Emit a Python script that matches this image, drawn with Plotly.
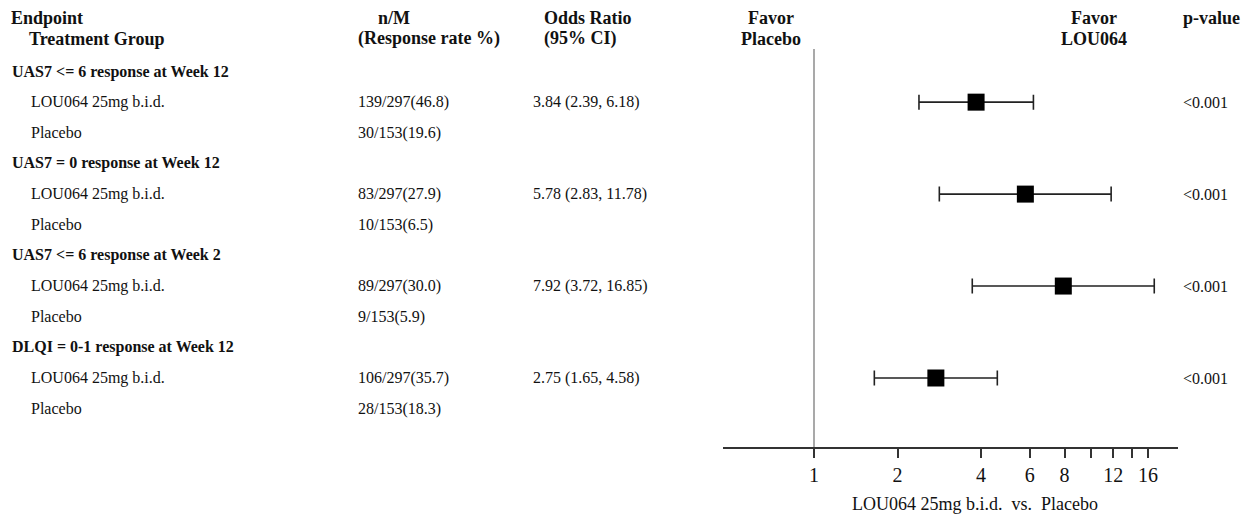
import plotly.graph_objects as go

# ---- data -------------------------------------------------------------
endpoints = [
    "UAS7 &lt;= 6 response at Week 12",
    "UAS7 = 0 response at Week 12",
    "UAS7 &lt;= 6 response at Week 2",
    "DLQI = 0-1 response at Week 12",
]
active_label = "LOU064 25mg b.i.d."
placebo_label = "Placebo"

active_n = [139, 83, 89, 106]
active_total = [297, 297, 297, 297]
active_rate = [46.8, 27.9, 30.0, 35.7]

placebo_n = [30, 10, 9, 28]
placebo_total = [153, 153, 153, 153]
placebo_rate = [19.6, 6.5, 5.9, 18.3]

odds_ratio = [3.84, 5.78, 7.92, 2.75]
ci_lower = [2.39, 2.83, 3.72, 1.65]
ci_upper = [6.18, 11.78, 16.85, 4.58]
p_values = ["&lt;0.001", "&lt;0.001", "&lt;0.001", "&lt;0.001"]

tick_values = [1, 2, 4, 6, 8, 10, 12, 14, 16]
tick_labels = ["1", "2", "4", "6", "8", "", "12", "", "16"]

# ---- layout constants (pixels) ----------------------------------------
W, H = 1248, 522
FONT = "Liberation Serif, Times New Roman, serif"
TXT = "#111111"
ROW_H = 30.65          # pixel height of one table row
ROW0_Y = 71.5          # pixel centre of the first row
AXIS_Y = 447           # pixel position of the x axis line
X_LEFT, X_RIGHT = 723, 1178
X_ONE = 814            # pixel position of OR = 1
PX_PER_DECADE = 277.4

def px_x(p):
    return p / W

def px_y(p):
    return 1 - p / H

# rows: each endpoint has a title row, an active row and a placebo row
title_rows = [3 * i for i in range(len(endpoints))]
active_rows = [3 * i + 1 for i in range(len(endpoints))]
placebo_rows = [3 * i + 2 for i in range(len(endpoints))]

fig = go.Figure()

# reference line at OR = 1
top_row = (49 - ROW0_Y) / ROW_H
bottom_row = (AXIS_Y - ROW0_Y) / ROW_H
fig.add_trace(go.Scatter(
    x=[1, 1], y=[top_row, bottom_row], mode="lines",
    line=dict(color="#8c8c8c", width=1.5), hoverinfo="skip", showlegend=False,
))

# odds ratios with 95% CI
fig.add_trace(go.Scatter(
    x=odds_ratio, y=active_rows, mode="markers",
    marker=dict(symbol="square", size=17, color="black"),
    error_x=dict(
        type="data", symmetric=False,
        array=[u - o for u, o in zip(ci_upper, odds_ratio)],
        arrayminus=[o - l for o, l in zip(odds_ratio, ci_lower)],
        color="#222222", thickness=1.6, width=7.5,
    ),
    showlegend=False,
))

ann = []

def add_text(text, x, y, size=16, bold=False, anchor="left", yref="y"):
    ann.append(dict(
        text=f"<b>{text}</b>" if bold else text,
        x=px_x(x), xref="paper", xanchor=anchor,
        y=y, yref=yref, yanchor="middle",
        showarrow=False, borderpad=0,
        font=dict(family=FONT, size=size, color=TXT),
    ))

# column headers
add_text("Endpoint", 10, px_y(18), 18, True, yref="paper")
add_text("Treatment Group", 28, px_y(39), 18, True, yref="paper")
add_text("n/M", 377, px_y(18), 18, True, yref="paper")
add_text("(Response rate %)", 357, px_y(39), 18, True, yref="paper")
add_text("Odds Ratio", 543, px_y(18), 18, True, yref="paper")
add_text("(95% CI)", 543, px_y(39), 18, True, yref="paper")
add_text("Favor", 771, px_y(18), 18, True, "center", yref="paper")
add_text("Placebo", 771, px_y(39), 18, True, "center", yref="paper")
add_text("Favor", 1094, px_y(18), 18, True, "center", yref="paper")
add_text("LOU064", 1094, px_y(39), 18, True, "center", yref="paper")
add_text("p-value", 1211, px_y(18), 18, True, "center", yref="paper")

# table body
for i, name in enumerate(endpoints):
    add_text(name, 11, title_rows[i], 16, True)
    add_text(active_label, 30, active_rows[i])
    add_text(placebo_label, 30, placebo_rows[i])
    add_text(f"{active_n[i]}/{active_total[i]}({active_rate[i]:.1f})", 357, active_rows[i])
    add_text(f"{placebo_n[i]}/{placebo_total[i]}({placebo_rate[i]:.1f})", 357, placebo_rows[i])
    add_text(f"{odds_ratio[i]:.2f} ({ci_lower[i]:.2f}, {ci_upper[i]:.2f})", 532, active_rows[i])
    add_text(p_values[i], 1182, active_rows[i])

# x axis title
add_text("LOU064 25mg b.i.d.\u00a0\u00a0vs.\u00a0\u00a0Placebo", 975, px_y(504), 18,
         anchor="center", yref="paper")

x_lo = (X_LEFT - X_ONE) / PX_PER_DECADE
x_hi = (X_RIGHT - X_ONE) / PX_PER_DECADE
y_top = -ROW0_Y / ROW_H
y_bot = (AXIS_Y - ROW0_Y) / ROW_H

fig.update_layout(
    width=W, height=H,
    margin=dict(l=0, r=0, t=0, b=0),
    paper_bgcolor="white", plot_bgcolor="white",
    annotations=ann,
    xaxis=dict(
        type="log", range=[x_lo, x_hi],
        domain=[X_LEFT / W, X_RIGHT / W],
        tickvals=tick_values, ticktext=tick_labels,
        ticks="outside", ticklen=9, tickwidth=2, tickcolor="#333333",
        showline=True, linecolor="#333333", linewidth=2,
        showgrid=False, zeroline=False,
        tickfont=dict(family=FONT, size=20, color=TXT),
        fixedrange=True,
    ),
    yaxis=dict(
        range=[y_bot, y_top],
        domain=[(H - AXIS_Y) / H, 1],
        visible=False, showgrid=False, zeroline=False, fixedrange=True,
    ),
)

fig.write_html("out.html")
